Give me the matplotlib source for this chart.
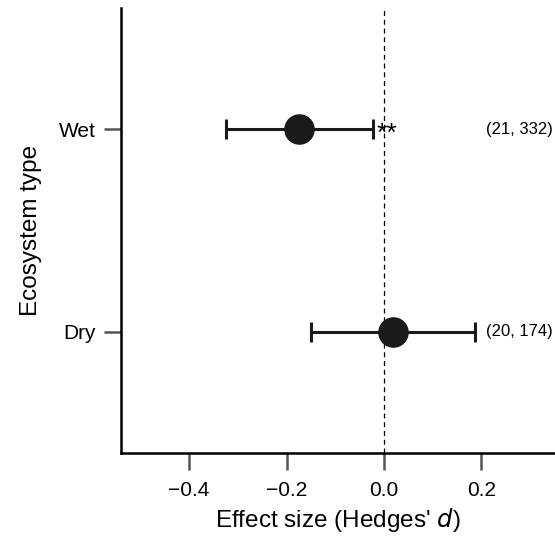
import matplotlib
matplotlib.use("Agg")
import matplotlib.pyplot as plt

plt.rcParams['font.family'] = ['Liberation Sans', 'DejaVu Sans']

ecosystems = ['Dry', 'Wet']
effect = [0.019, -0.174]
ci_low = [-0.150, -0.324]
ci_high = [0.187, -0.023]
counts = ['(20, 174)', '(21, 332)']
signif = ['', '**']

fig = plt.figure(figsize=(5.55, 5.37), dpi=100)
ax = fig.add_axes([0.218, 0.156, 0.782, 0.829])

ypos = list(range(len(ecosystems)))
xerr = [[e - l for e, l in zip(effect, ci_low)], [h - e for e, h in zip(effect, ci_high)]]

ax.axvline(0, color='black', linestyle=(0, (4, 3)), linewidth=0.9, zorder=1)
ax.errorbar(effect, ypos, xerr=xerr, fmt='o', color='#1a1a1a', ecolor='#1a1a1a',
            markersize=21, elinewidth=2.2, capsize=7.5, capthick=2.2, zorder=3)

for y, h, s, c in zip(ypos, ci_high, signif, counts):
    if s:
        ax.annotate(s, xy=(h, y), xytext=(3, -3.5), textcoords='offset points',
                    fontsize=19, va='center', ha='left')
    ax.text(0.21, y, c, fontsize=12, va='center', ha='left')

ax.set_xlim(-0.54, 0.351)
ax.set_ylim(-0.6, 1.6)
ax.set_xticks([-0.4, -0.2, 0.0, 0.2])
ax.set_xticklabels(['\u22120.4', '\u22120.2', '0.0', '0.2'])
ax.set_yticks(ypos)
ax.set_yticklabels(ecosystems)
ax.tick_params(axis='both', labelsize=15, length=12, width=1.8, color='#555555')
ax.tick_params(axis='y', pad=6)
ax.tick_params(axis='x', pad=8)
ax.set_xlabel("Effect size (Hedges' $d$)", fontsize=17.5, labelpad=4)
ax.set_ylabel('Ecosystem type', fontsize=17.5, labelpad=12)

for side in ['top', 'right']:
    ax.spines[side].set_visible(False)
for side in ['left', 'bottom']:
    ax.spines[side].set_linewidth(1.8)

fig.savefig('out.png', dpi=100)
